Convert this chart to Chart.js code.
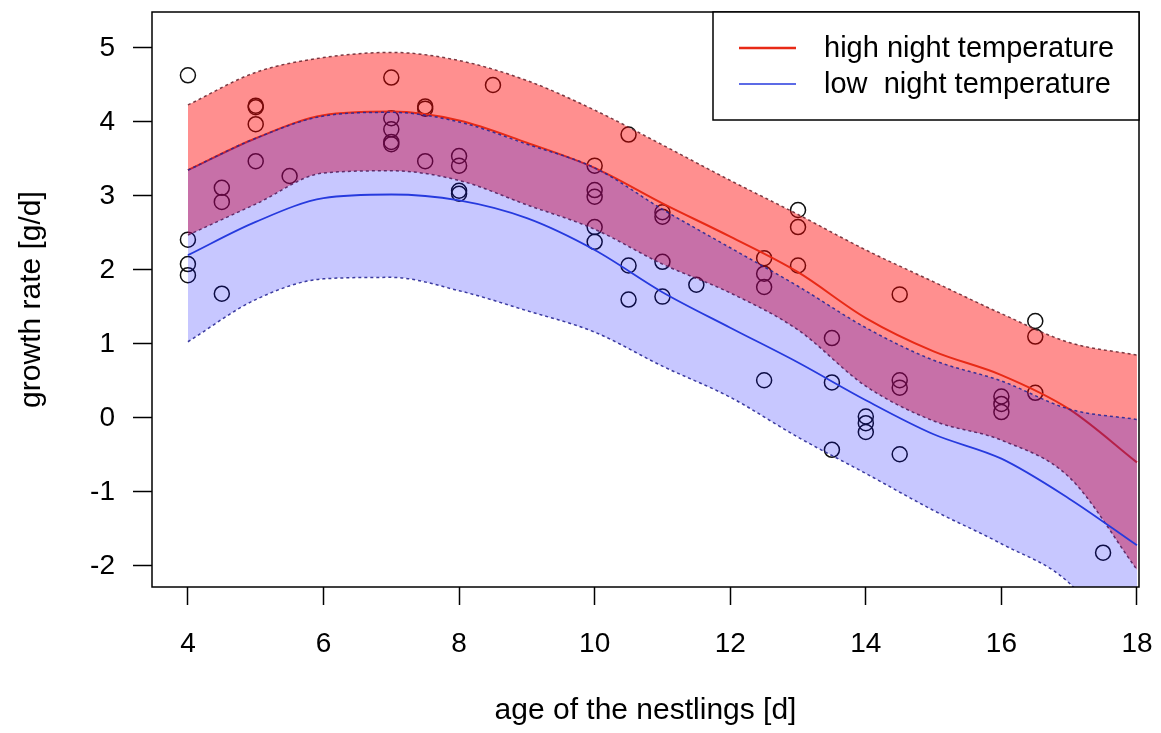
<!DOCTYPE html>
<html>
<head>
<meta charset="utf-8">
<script src="https://cdn.jsdelivr.net/npm/chart.js@4.4.0/dist/chart.umd.min.js"></script>
<style>
  html, body { margin: 0; padding: 0; background: #fff; }
</style>
</head>
<body>
<canvas id="ctx" width="1161" height="733"></canvas>
<script>
// fitted curves, read at each day of age
const ages      = [4, 5, 6, 7, 8, 9, 10, 11, 12, 13, 14, 15, 16, 17, 18];
const highFit   = [3.35, 3.78, 4.09, 4.14, 4.02, 3.72, 3.38, 2.90, 2.45, 1.97, 1.35, 0.90, 0.58, 0.12, -0.60];
const highUpper = [4.23, 4.67, 4.87, 4.94, 4.83, 4.56, 4.16, 3.69, 3.21, 2.75, 2.27, 1.84, 1.41, 1.02, 0.85];
const highLower = [2.47, 2.89, 3.31, 3.34, 3.21, 2.88, 2.55, 2.08, 1.69, 1.19, 0.43, -0.04, -0.30, -0.80, -2.05];
const lowFit    = [2.20, 2.65, 2.97, 3.02, 2.94, 2.70, 2.27, 1.70, 1.22, 0.75, 0.24, -0.22, -0.55, -1.09, -1.72];
const lowUpper  = [3.35, 3.78, 4.08, 4.13, 4.00, 3.70, 3.38, 2.82, 2.30, 1.78, 1.22, 0.78, 0.50, 0.12, -0.02];
const lowLower  = [1.03, 1.60, 1.88, 1.90, 1.72, 1.45, 1.16, 0.70, 0.28, -0.26, -0.75, -1.25, -1.70, -2.23, -3.40];

// observed nestlings
const obsAge  = [4, 4, 4, 4, 4.5, 4.5, 4.5, 5, 5, 5, 5, 5.5,
                 7, 7, 7, 7, 7, 7.5, 7.5, 7.5, 8, 8, 8, 8, 8.5,
                 10, 10, 10, 10, 10, 10.5, 10.5, 10.5, 11, 11, 11, 11, 11.5,
                 12.5, 12.5, 12.5, 12.5, 13, 13, 13, 13.5, 13.5, 13.5,
                 14, 14, 14, 14.5, 14.5, 14.5, 14.5, 16, 16, 16, 16.5, 16.5, 16.5, 17.5];
const obsRate = [4.63, 2.41, 2.08, 1.93, 3.11, 2.92, 1.68, 4.22, 4.20, 3.97, 3.47, 3.27,
                 4.60, 4.05, 3.90, 3.73, 3.70, 4.21, 4.18, 3.47, 3.54, 3.41, 3.07, 3.03, 4.50,
                 3.41, 3.08, 2.99, 2.58, 2.38, 3.83, 2.06, 1.60, 2.78, 2.72, 2.11, 1.64, 1.80,
                 2.16, 1.95, 1.77, 0.51, 2.81, 2.58, 2.06, 1.08, 0.48, -0.43,
                 0.02, -0.07, -0.19, 1.67, 0.51, 0.41, -0.49, 0.29, 0.19, 0.08, 1.31, 1.10, 0.34, -1.82];

const xTicks = [4, 6, 8, 10, 12, 14, 16, 18];
const yTicks = [-2, -1, 0, 1, 2, 3, 4, 5];
const legendLabels = ['high night temperature', 'low  night temperature'];

const redLine = 'rgb(232,42,22)';
const blueLine = 'rgb(38,58,222)';

Chart.defaults.font.family = '"Liberation Sans", Arial, sans-serif';
Chart.defaults.color = '#000';

const pts = (ys) => ages.map((a, i) => ({x: a, y: ys[i]}));

const edge = (ys, color, ord, fill, bg) => ({
    data: pts(ys),
    borderColor: color,
    borderWidth: 1.5,
    borderDash: [3, 3],
    pointRadius: 0,
    cubicInterpolationMode: 'monotone',
    fill: fill,
    backgroundColor: bg,
    order: ord
});

// frame + legend box, the R way
const boxLegend = {
    id: 'boxLegend',
    afterDraw(chart) {
        const ctx = chart.ctx, a = chart.chartArea;
        ctx.save();
        ctx.strokeStyle = '#000';
        ctx.lineWidth = 1.5;
        ctx.strokeRect(a.left, a.top, a.right - a.left, a.bottom - a.top);

        const bw = 426, bh = 108;
        const bx = a.right - bw, by = a.top;
        ctx.fillStyle = '#fff';
        ctx.fillRect(bx, by, bw, bh);
        ctx.strokeRect(bx, by, bw, bh);

        const cols = [redLine, blueLine];
        const widths = [2.5, 1.5];
        ctx.font = '29px "Liberation Sans", Arial, sans-serif';
        ctx.textBaseline = 'middle';
        legendLabels.forEach((lbl, i) => {
            const y = by + 36 + i * 36;
            ctx.strokeStyle = cols[i];
            ctx.lineWidth = widths[i];
            ctx.beginPath();
            ctx.moveTo(bx + 26, y);
            ctx.lineTo(bx + 83, y);
            ctx.stroke();
            ctx.fillStyle = '#000';
            ctx.fillText(lbl, bx + 111, y + 1);
        });
        ctx.restore();
    }
};

let myChart = new Chart(document.getElementById('ctx'), {
    type: 'line',
    data: {
        datasets: [
            {
                type: 'scatter',
                data: obsAge.map((a, i) => ({x: a, y: obsRate[i]})),
                pointRadius: 7.5,
                pointBorderWidth: 1.5,
                pointBorderColor: '#111',
                pointBackgroundColor: 'rgba(0,0,0,0)',
                showLine: false,
                order: 10
            },
            edge(highUpper, 'rgba(110,40,50,0.9)', 9, '+1', 'rgba(255,0,0,0.44)'),
            edge(highLower, 'rgba(110,40,50,0.9)', 8, false, 'transparent'),
            {
                data: pts(highFit),
                borderColor: redLine,
                borderWidth: 2,
                pointRadius: 0,
                cubicInterpolationMode: 'monotone',
                fill: false,
                order: 7
            },
            edge(lowUpper, 'rgba(40,40,150,0.9)', 6, '+1', 'rgba(0,0,255,0.22)'),
            edge(lowLower, 'rgba(40,40,150,0.9)', 5, false, 'transparent'),
            {
                data: pts(lowFit),
                borderColor: blueLine,
                borderWidth: 1.8,
                pointRadius: 0,
                cubicInterpolationMode: 'monotone',
                fill: false,
                order: 4
            }
        ]
    },
    options: {
        responsive: false,
        animation: false,
        layout: { padding: { top: 12, right: 22, left: 0, bottom: 0 } },
        plugins: {
            legend: { display: false },
            tooltip: { enabled: false },
            filler: { propagate: false }
        },
        scales: {
            x: {
                type: 'linear',
                min: 3.47,
                max: 18.03,
                afterBuildTicks: (s) => { s.ticks = xTicks.map(v => ({value: v})); },
                afterFit: (s) => { s.height = 146; s.paddingLeft = 0; s.paddingRight = 0; },
                ticks: { font: { size: 28 }, padding: 22, maxRotation: 0, autoSkip: false },
                grid: { drawOnChartArea: false, tickLength: 18, tickColor: '#000', tickWidth: 1.5 },
                border: { display: false },
                title: { display: true, text: 'age of the nestlings [d]', font: { size: 30 }, padding: { top: 4, bottom: 4 } }
            },
            y: {
                min: -2.284,
                max: 5.486,
                afterBuildTicks: (s) => { s.ticks = yTicks.map(v => ({value: v})); },
                afterFit: (s) => { s.width = 152; s.paddingTop = 0; s.paddingBottom = 0; },
                ticks: { font: { size: 28 }, padding: 18, autoSkip: false },
                grid: { drawOnChartArea: false, tickLength: 19, tickColor: '#000', tickWidth: 1.5 },
                border: { display: false },
                title: { display: true, text: 'growth rate [g/d]', font: { size: 30 }, padding: { top: 14, bottom: 4 } }
            }
        }
    },
    plugins: [boxLegend]
});
</script>
</body>
</html>
